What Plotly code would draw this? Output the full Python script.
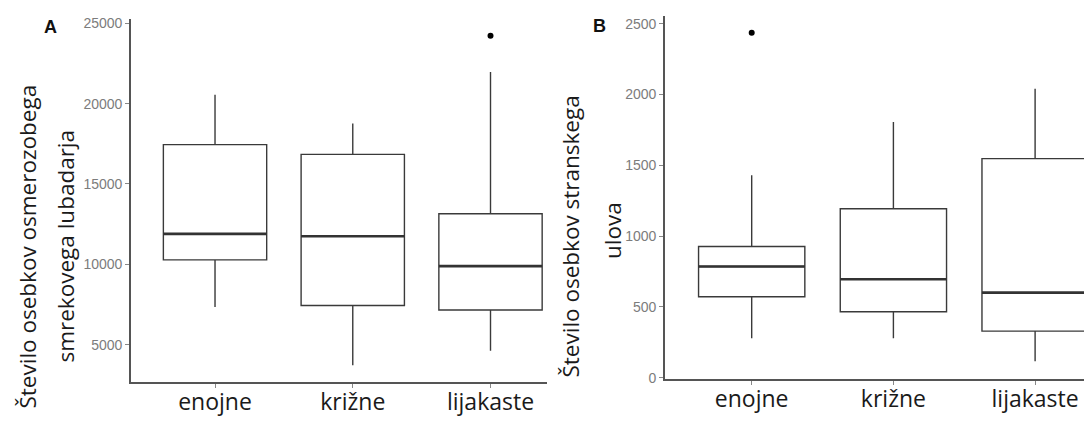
import plotly.graph_objects as go

categories = ["enojne", "križne", "lijakaste"]

# Panel A: osmerozobi smrekov lubadar (five-number summaries)
a_low = [7350, 3720, 4630]
a_q1 = [10280, 7440, 7160]
a_med = [11900, 11750, 9890]
a_q3 = [17450, 16840, 13150]
a_high = [20550, 18760, 21960]
a_out_cat = ["lijakaste"]
a_out_val = [24220]

# Panel B: stranski ulov
b_low = [278, 278, 117]
b_q1 = [572, 466, 329]
b_med = [785, 695, 601]
b_q3 = [926, 1193, 1547]
b_high = [1429, 1806, 2040]
b_out_cat = ["enojne"]
b_out_val = [2436]

a_ticks = [5000, 10000, 15000, 20000, 25000]
b_ticks = [0, 500, 1000, 1500, 2000, 2500]

BOX_W = 0.75
LINE = "#3a3a3a"
TEXT_FONT = "Open Sans"

fig = go.Figure()


def add_panel(xa, ya, low, q1, med, q3, high, out_cat, out_val):
    fig.add_trace(go.Box(
        x=categories, lowerfence=low, q1=q1, median=med, q3=q3, upperfence=high,
        width=BOX_W, whiskerwidth=0, fillcolor="white",
        line=dict(color=LINE, width=1.4),
        boxpoints=False, showlegend=False, hoverinfo="skip",
        xaxis=xa, yaxis=ya,
    ))
    # thicker median bars, as in ggplot
    for i, m in enumerate(med):
        fig.add_shape(type="line", xref=xa, yref=ya,
                      x0=i - BOX_W / 2, x1=i + BOX_W / 2, y0=m, y1=m,
                      line=dict(color="#333333", width=2.6))
    fig.add_trace(go.Scatter(
        x=out_cat, y=out_val, mode="markers",
        marker=dict(color="black", size=6), showlegend=False,
        hoverinfo="skip", xaxis=xa, yaxis=ya,
    ))


add_panel("x", "y", a_low, a_q1, a_med, a_q3, a_high, a_out_cat, a_out_val)
add_panel("x2", "y2", b_low, b_q1, b_med, b_q3, b_high, b_out_cat, b_out_val)

xcommon = dict(
    type="category", categoryorder="array", categoryarray=categories,
    showline=True, linecolor="#555555", linewidth=1.6, showgrid=False,
    zeroline=False, ticks="outside", ticklen=4, tickcolor="#888888",
    ticklabelstandoff=-5,
    tickfont=dict(family=TEXT_FONT, size=23, color="#1a1a1a"),
)
ycommon = dict(
    showline=True, linecolor="#555555", linewidth=1.6, showgrid=False,
    zeroline=False, ticks="outside", ticklen=4, tickcolor="#888888",
    tickfont=dict(family="Liberation Sans", size=14, color="#7c7c7c"),
)

fig.update_layout(
    width=1084, height=421,
    margin=dict(l=131, r=0, t=16, b=39),
    paper_bgcolor="white", plot_bgcolor="white",
    xaxis=dict(xcommon, domain=[0, 0.4365], range=[-0.61, 2.41], anchor="y"),
    yaxis=dict(ycommon, domain=[0, 0.991], range=[2686, 25243],
               tickvals=a_ticks, ticktext=[str(v) for v in a_ticks], anchor="x"),
    xaxis2=dict(xcommon, domain=[0.5603, 1], range=[-0.612, 2.345], anchor="y2"),
    yaxis2=dict(ycommon, domain=[0.0082, 1], range=[-9, 2554],
                tickvals=b_ticks, ticktext=[str(v) for v in b_ticks], anchor="x2"),
)

title_font = dict(family=TEXT_FONT, size=22.5, color="#1a1a1a")
titles = [
    ("Število osebkov osmerozobega", -0.1091, 0.3702),
    ("smrekovega lubadarja", -0.0682, 0.3702),
    ("Število osebkov stranskega", 0.4617, 0.3975),
    ("ulova", 0.5047, 0.4153),
]
for text, x, y in titles:
    fig.add_annotation(text=text, xref="paper", yref="paper", x=x, y=y,
                       xanchor="center", yanchor="middle", textangle=-90,
                       showarrow=False, font=title_font)

for text, x, y in [("A", -0.0843, 0.9700), ("B", 0.4921, 0.9727)]:
    fig.add_annotation(text=f"<b>{text}</b>", xref="paper", yref="paper",
                       x=x, y=y, xanchor="center", yanchor="middle",
                       showarrow=False,
                       font=dict(family="Liberation Sans", size=18, color="#111111"))

fig.write_html("out.html")
